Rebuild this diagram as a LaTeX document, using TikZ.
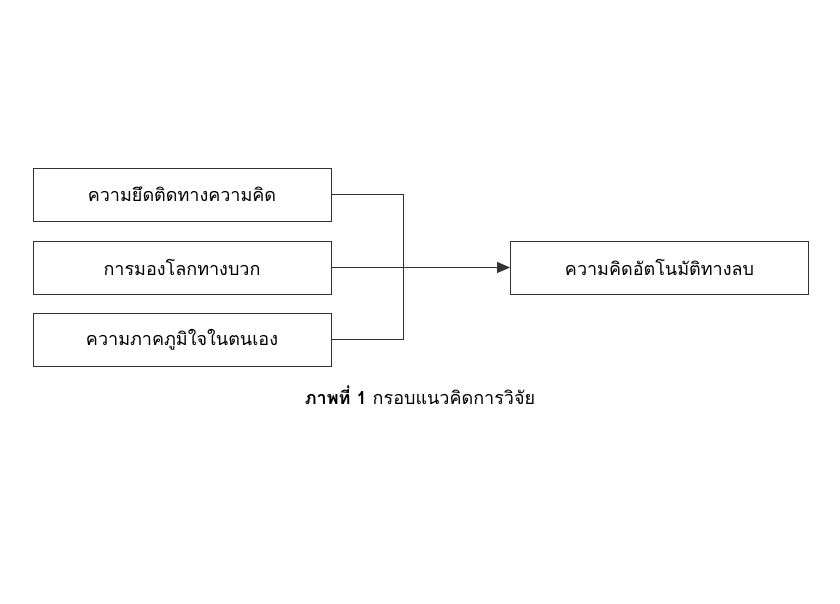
\documentclass[tikz,border=0pt]{standalone}
\usepackage{fontspec}
\newfontfamily\thaifont[Script=Thai]{Loma}
\usetikzlibrary{positioning, arrows.meta}
\begin{document}
\begin{tikzpicture}[x=1pt, y=-1pt,
        kotak/.style={draw=black!80, line width=0.9pt, minimum width=298pt, minimum height=53pt, inner sep=0pt, font=\thaifont\fontsize{18}{22}\selectfont},
        sen/.style={draw=black!80, line width=0.9pt}]
    \useasboundingbox (0,0) rectangle (840,604);
    % ตัวแปรต้น
    \node[kotak] (yuet) at (182,194.5) {ความยึดติดทางความคิด};
    \node[kotak] (mong) at (182,267.5) {การมองโลกทางบวก};
    \node[kotak] (phakphum) at (182,339.5) {ความภาคภูมิใจในตนเอง};
    % ตัวแปรตาม
    \node[kotak] (phonlap) at (659.5,267.5) {ความคิดอัตโนมัติทางลบ};
    \coordinate (ruam) at (403,267.5);
    \draw[sen] (yuet.east) -| (ruam);
    \draw[sen] (phakphum.east) -| (ruam);
    \draw[sen, -{Triangle[length=13pt, width=11pt]}] (mong.east) -- (phonlap.west);
    \node[font=\thaifont\fontsize{18}{22}\selectfont] (phap) at (420,395) {\textbf{ภาพที่ 1} กรอบแนวคิดการวิจัย};
\end{tikzpicture}
\end{document}
